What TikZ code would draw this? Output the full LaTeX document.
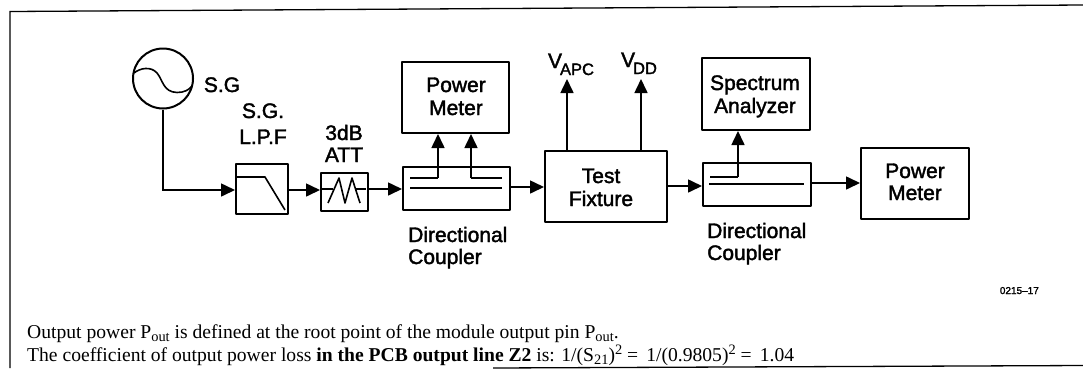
\documentclass[tikz,border=0pt]{standalone}
\usepackage{fontspec}
\setmainfont{Liberation Serif}
\newfontfamily\hv[FakeBold=1.8]{Liberation Sans}
\usetikzlibrary{arrows.meta}
\newcommand{\lowr}[1]{\raisebox{-3.5pt}{\fontsize{14.4}{15}\selectfont #1}}
\newcommand{\upr}[1]{\raisebox{7pt}{\fontsize{14.4}{15}\selectfont #1}}
\newcommand{\lowv}[1]{\kern-2pt\raisebox{-7pt}{\fontsize{16.5}{17}\selectfont #1}}
\tikzset{
 x=1pt,y=-1pt,
 blk/.style={draw,line width=2pt,inner sep=0pt,anchor=north west,line join=round},
 lbl/.style={inner sep=0pt,anchor=base,font=\hv\fontsize{21}{22}\selectfont},
 wire/.style={line width=1.6pt,line join=round},
 arr/.style={line width=1.6pt,-{Triangle[length=14pt,width=13pt]}},
 note/.style={inner sep=0pt,anchor=base west,font=\fontsize{19.6}{20}\selectfont},
 frameline/.style={line width=1.3pt}
}
\newcommand{\bx}[5]{\node[blk,minimum width=#4pt,minimum height=#5pt] (#1) at (#2,#3) {};}
\begin{document}
\begin{tikzpicture}
\useasboundingbox (0,0) rectangle (1083,368);
\draw[frameline] (1083,5) -- (10,11.5) -- (10,368);
\draw[frameline] (1083,365.5) -- (493,368);
% source
\node[draw,circle,line width=2pt,minimum size=60pt,inner sep=0pt] (sg) at (163,78.5) {};
\draw[line width=1.6pt] (134,73) .. controls (140,68) and (151,66) .. (157,73) .. controls (163,80) and (163,92) .. (177,92.5) .. controls (184,92.5) and (189,90) .. (192,86);
\node[lbl] (sgl) at (222,92) {S.G};
\node[lbl] (lpfa) at (263,118) {S.G.};
\node[lbl] (lpfb) at (263,144) {L.P.F};
\node[lbl] (atta) at (344,140) {3dB};
\node[lbl] (attb) at (344,162) {ATT};
\bx{lpf}{235}{163}{52}{50}
\bx{att}{320}{172}{47}{38}
\bx{dca}{402}{166}{107}{43}
\bx{pma}{401}{61}{107}{71}
\bx{fix}{544}{150}{122}{71}
\bx{dcb}{702}{162}{108}{43}
\bx{sa}{701}{57}{108}{72}
\bx{pmb}{860}{147}{108}{71}
\node[lbl] (pmat) at (456,92) {Power};
\node[lbl] (pmab) at (456,115) {Meter};
\node[lbl] (fixt) at (601,183) {Test};
\node[lbl] (fixb) at (601,206) {Fixture};
\node[lbl] (sat) at (755,90) {Spectrum};
\node[lbl] (sab) at (755,113) {Analyzer};
\node[lbl] (pmbt) at (915,178) {Power};
\node[lbl] (pmbb) at (915,200) {Meter};
\node[lbl,anchor=base west] (dcat) at (408,242) {Directional};
\node[lbl,anchor=base west] (dcab) at (408,264) {Coupler};
\node[lbl,anchor=base west] (dcbt) at (707,238) {Directional};
\node[lbl,anchor=base west] (dcbb) at (707,260) {Coupler};
\node[lbl] (vapc) at (571,68) {V\lowv{APC}};
\node[lbl] (vdd) at (639,67) {V\lowv{DD}};
\node[inner sep=0pt,anchor=base east,font=\hv\fontsize{10}{11}\selectfont] (fig) at (1039,294) {0215–17};
% filter and attenuator symbols
\draw[wire] (236,177) -- (265,177) -- (285,210);
\draw[wire] (321,189) -- (333,189);
\draw[wire] (328,203) -- (339,178) -- (345,203) -- (352,178) -- (360,203);
\draw[wire] (355,189) -- (366,189);
% coupler lines
\coordinate (pa) at (438,178);
\coordinate (pb) at (471,178);
\coordinate (pc) at (738,177);
\draw[wire] (410,178) -- (pa);
\draw[wire] (pb) -- (502,178);
\draw[wire] (410,188) -- (502,188);
\draw[wire] (710,177) -- (pc);
\draw[wire] (709,184) -- (804,184);
% connectors
\coordinate (i1) at (235,190);
\coordinate (o1) at (287,190);
\coordinate (i2) at (320,190);
\coordinate (o2) at (367,189);
\coordinate (i3) at (402,189);
\coordinate (o3) at (509,187);
\coordinate (i4) at (544,187);
\coordinate (o4) at (666,186);
\coordinate (i5) at (702,186);
\coordinate (o5) at (810,183);
\coordinate (i6) at (860,183);
\draw[arr] (sg.south) |- (i1);
\draw[arr] (o1) -- (i2);
\draw[arr] (o2) -- (i3);
\draw[arr] (o3) -- (i4);
\draw[arr] (o4) -- (i5);
\draw[arr] (o5) -- (i6);
\draw[arr] (pa) -- (pma.south -| pa);
\draw[arr] (pb) -- (pma.south -| pb);
\draw[arr] (pc) -- (sa.south -| pc);
\coordinate (va) at (567,79);
\coordinate (vd) at (641,79);
\draw[arr] (fix.north -| va) -- (va);
\draw[arr] (fix.north -| vd) -- (vd);
% notes
\node[note] (n1) at (27,338) {Output power P\lowr{out} is defined at the root point of the module output pin P\lowr{out}.};
\node[note] (n2) at (27,361) {The coefficient of output power loss \textbf{in the PCB output line Z2} is: 1/(S\lowr{21})\upr{2} = \,1/(0.9805)\upr{2} = \,1.04};
\end{tikzpicture}
\end{document}
